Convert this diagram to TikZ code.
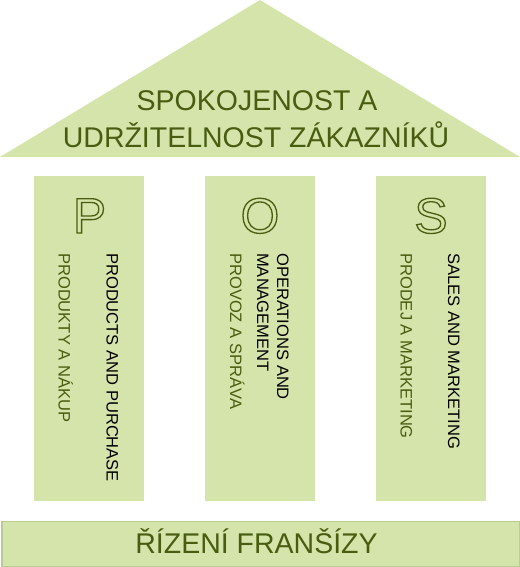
\documentclass[tikz,border=0pt]{standalone}
\usepackage{fontspec}
\setmainfont{Liberation Sans}
\definecolor{pillarfill}{RGB}{213,228,171}
\definecolor{darkolive}{RGB}{72,93,16}
\definecolor{barline}{RGB}{185,204,148}
% hollow (stroked) letters for the pillar initials
\newcommand{\hollowtext}[1]{\special{pdf:literal direct 1 Tr 1.3 w}#1\special{pdf:literal direct 0 Tr}}
\begin{document}
\begin{tikzpicture}[x=1bp,y=-1bp,
  pillar/.style={fill=pillarfill, draw=none, minimum width=110bp, minimum height=325bp, inner sep=0pt, anchor=north west},
  vtext/.style={rotate=-90, anchor=base west, inner sep=0pt, font=\fontsize{16.6}{20}\selectfont},
  bigletter/.style={anchor=base, inner sep=0pt, text=darkolive, font=\fontsize{50}{50}\selectfont},
  rooftext/.style={anchor=base, inner sep=0pt, text=darkolive, font=\fontsize{28.6}{34}\selectfont}]
 \useasboundingbox (0,0) rectangle (520,567);
 % roof
 \fill[pillarfill] (0,157) -- (260,0) -- (520,157) -- cycle;
 \node[rooftext] (roofa) at (257,111) {SPOKOJENOST A};
 \node[rooftext] (roofb) at (256,147.7) {UDRŽITELNOST ZÁKAZNÍKŮ};
 % pillars
 \node[pillar] (colP) at (34,176) {};
 \node[pillar] (colO) at (205,176) {};
 \node[pillar] (colS) at (376,176) {};
 \node[bigletter] (letP) at (89.5,233) {\hollowtext{P}};
 \node[bigletter] (letO) at (260,233) {\hollowtext{O}};
 \node[bigletter] (letS) at (431,233) {\hollowtext{S}};
 \node[vtext] (enP) at (106.5,253) {PRODUCTS AND PURCHASE};
 \node[vtext, text=darkolive] (czP) at (58.5,253) {PRODUKTY A NÁKUP};
 \node[vtext] (enOa) at (277,253) {OPERATIONS AND};
 \node[vtext] (enOb) at (257,253) {MANAGEMENT};
 \node[vtext, text=darkolive] (czO) at (230,253) {PROVOZ A SPRÁVA};
 \node[vtext] (enS) at (448,253) {SALES AND MARKETING};
 \node[vtext, text=darkolive] (czS) at (400.5,253) {PRODEJ A MARKETING};
 % base
 \node[draw=barline, fill=pillarfill, line width=1.5bp, minimum width=518bp, minimum height=45bp, inner sep=0pt, anchor=north west] (base) at (1,520.5) {};
 \node[rooftext] (basetext) at (256.5,553) {ŘÍZENÍ FRANŠÍZY};
\end{tikzpicture}
\end{document}
